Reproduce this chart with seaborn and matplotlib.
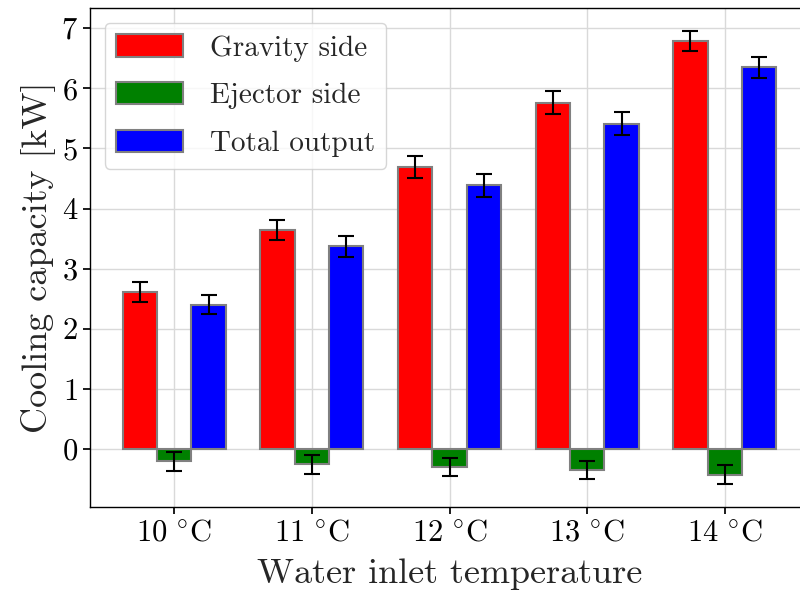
import pandas as pd
import matplotlib
matplotlib.use("Agg")
import matplotlib.pyplot as plt
from matplotlib.ticker import MultipleLocator
import seaborn as sns

temps = ["10", "11", "12", "13", "14"]
series = ["Gravity side", "Ejector side", "Total output"]
gravity = [2.61, 3.64, 4.69, 5.76, 6.79]
ejector = [-0.21, -0.26, -0.30, -0.35, -0.43]
total = [2.40, 3.37, 4.39, 5.41, 6.35]
gravity_err = [0.16, 0.17, 0.18, 0.19, 0.17]
ejector_err = [0.155, 0.155, 0.155, 0.155, 0.16]
total_err = [0.155, 0.17, 0.19, 0.19, 0.17]
colors = ["red", "green", "blue"]

sns.set_theme(style="whitegrid")
plt.rcParams.update({
    "font.family": ["cmr10", "DejaVu Serif"],
    "mathtext.fontset": "cm",
    "axes.formatter.use_mathtext": True,
    "axes.unicode_minus": False,
    "axes.edgecolor": "black",
    "axes.linewidth": 1.0,
    "grid.color": "#d9d9d9",
    "grid.linewidth": 1.0,
    "xtick.bottom": True,
    "ytick.left": True,
    "xtick.color": "black",
    "ytick.color": "black",
    "xtick.major.size": 5,
    "ytick.major.size": 5,
})

df = pd.DataFrame({
    "temp": temps * 3,
    "series": [s for s in series for _ in temps],
    "value": gravity + ejector + total,
    "err": gravity_err + ejector_err + total_err,
})

fig = plt.figure(figsize=(8, 5.97), dpi=100)
ax = fig.add_axes([90 / 800, 90 / 597, 719 / 800, 499 / 597])
ax.set_axisbelow(True)

sns.barplot(data=df, x="temp", y="value", hue="series", palette=colors,
            saturation=1, width=0.75, errorbar=None, edgecolor="gray",
            linewidth=1.5, ax=ax)

# error bars at the centres of the drawn bars
for container, s in zip(ax.containers, series):
    sub = df[df["series"] == s]
    xs = [p.get_x() + p.get_width() / 2 for p in container.patches]
    ax.errorbar(xs, sub["value"].values, yerr=sub["err"].values, fmt="none",
                ecolor="black", elinewidth=1.5, capsize=6, capthick=1.5)

ax.set_xlim(-0.6125, 4.6125)
ax.set_xticks(range(len(temps)))
ax.set_xticklabels([r"$" + t + r"\ ^{\circ}\mathrm{C}$" for t in temps])
ax.yaxis.set_major_locator(MultipleLocator(1))
ax.grid(True, axis="both")
ax.tick_params(labelsize=22)
ax.set_xlabel("Water inlet temperature", fontsize=26, labelpad=9)
ax.set_ylabel("Cooling capacity [kW]", fontsize=26)
for side in ["top", "left", "bottom", "right"]:
    ax.spines[side].set_color("black")

handles, labels = ax.get_legend_handles_labels()
leg = ax.legend(handles, labels, loc="upper left", fontsize=21,
                handlelength=2.3, handleheight=0.8, handletextpad=0.9,
                labelspacing=0.7, frameon=True, fancybox=True)
leg.get_frame().set_edgecolor("#cccccc")
for h in leg.legend_handles:
    h.set_edgecolor("gray")
    h.set_linewidth(1.5)

fig.savefig("out.png", dpi=100)
